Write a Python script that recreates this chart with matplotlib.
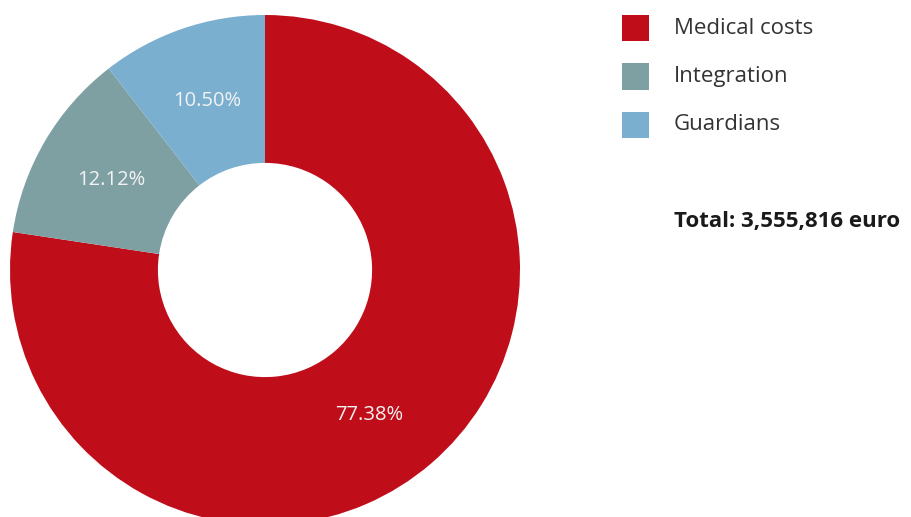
import matplotlib
matplotlib.use('Agg')
import numpy as np
import matplotlib.pyplot as plt
from matplotlib.patches import Rectangle

# data
categories = ['Medical costs', 'Integration', 'Guardians']
shares = [77.38, 12.12, 10.50]
colors = ['#C00D1A', '#7FA0A3', '#7BAFD0']
total_label = 'Total: 3,555,816 euro'

plt.rcParams['font.family'] = ['Open Sans', 'DejaVu Sans']

W, H = 912, 517
fig = plt.figure(figsize=(W / 100, H / 100), dpi=100)
fig.patch.set_facecolor('white')

# donut axes: centre (265, 270) px, radius 255 px
R = 255
ax = fig.add_axes([(265 - R) / W, (H - 270 - R) / H, 2 * R / W, 2 * R / H])
wedges, _ = ax.pie(shares, colors=colors, startangle=90, counterclock=False,
                   radius=1.0, wedgeprops=dict(width=0.58, linewidth=0))
ax.set_xlim(-1, 1)
ax.set_ylim(-1, 1)
ax.set_aspect('equal')
ax.axis('off')

# percentage labels in the ring
for w, s in zip(wedges, shares):
    mid = (w.theta1 + w.theta2) / 2
    if s > 50:
        mid -= 5  # big slice label sits a bit lower in the original
    mid = np.deg2rad(mid)
    r = 0.70
    ax.text(r * np.cos(mid), r * np.sin(mid), f'{s:.2f}%', ha='center', va='center',
            color='#F2F2F2', fontsize=14.5)

# legend drawn by hand
for i, (cat, col) in enumerate(zip(categories, colors)):
    yc = 28 + i * 48.5
    fig.patches.append(Rectangle((622 / W, 1 - (yc + 13) / H), 27 / W, 26 / H,
                                 transform=fig.transFigure, facecolor=col, edgecolor='none'))
    fig.text(674 / W, 1 - yc / H, cat, ha='left', va='center', fontsize=16, color='#333333')

fig.text(674 / W, 1 - 222 / H, total_label, ha='left', va='center', fontsize=16,
         fontweight='bold', color='#1a1a1a')

fig.savefig('out.png', dpi=100)
